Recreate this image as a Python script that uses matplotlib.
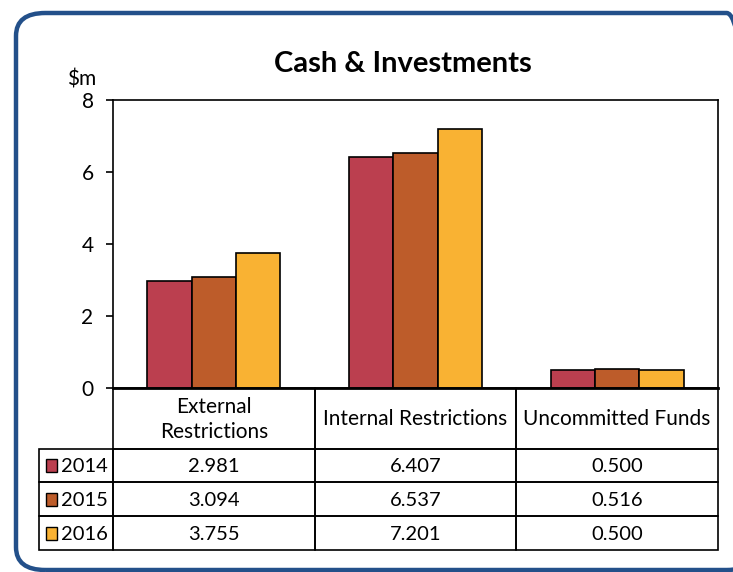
import matplotlib.pyplot as plt
from matplotlib.patches import FancyBboxPatch, Rectangle

# data
categories = ["External\nRestrictions", "Internal Restrictions", "Uncommitted Funds"]
years = ["2014", "2015", "2016"]
v2014 = [2.981, 6.407, 0.500]
v2015 = [3.094, 6.537, 0.516]
v2016 = [3.755, 7.201, 0.500]
series = [v2014, v2015, v2016]
colours = ["#bb3f4f", "#bd5c2a", "#f9b233"]
yticks = [0, 2, 4, 6, 8]

plt.rcParams['font.family'] = ['Lato', 'DejaVu Sans']

W, H = 733, 572
fig = plt.figure(figsize=(W / 100, H / 100), dpi=100)

def px_box(x0, y0, x1, y1):
    # pixel box (top-left origin) -> figure fraction rect
    return [x0 / W, 1 - y1 / H, (x1 - x0) / W, (y1 - y0) / H]

# rounded blue frame
frame = FancyBboxPatch((16 / W, 2 / H), 740 / W, 557 / H,
                       boxstyle="round,pad=0,rounding_size=0.04",
                       transform=fig.transFigure, fill=False,
                       edgecolor="#23508a", linewidth=3.2, clip_on=False)
fig.patches.append(frame)

# bar chart
ax = fig.add_axes(px_box(113, 100, 718, 388))
n = len(categories)
bw = 0.22
for i, (vals, c) in enumerate(zip(series, colours)):
    xs = [k + 0.5 + (i - 1) * bw for k in range(n)]
    ax.bar(xs, vals, width=bw, color=c, edgecolor="black", linewidth=1.2, zorder=3)
ax.set_xlim(0, n)
ax.set_ylim(0, 8)
ax.set_yticks(yticks)
ax.set_yticklabels([str(t) for t in yticks], fontsize=15)
ax.set_xticks([])
ax.tick_params(axis="y", length=5, width=1.2, pad=9)
for s in ax.spines.values():
    s.set_linewidth(1.2)
ax.spines["bottom"].set_linewidth(2)
fig.text(96 / W, 1 - 86 / H, "$m", ha="right", va="baseline", fontsize=15)
fig.text(403 / W, 1 - 72 / H, "Cash & Investments", ha="center", va="baseline",
         fontsize=21, fontweight="bold")

# data table underneath
tab = fig.add_axes(px_box(39, 388, 718, 550))
left = -74 / ((718 - 113) / n)
row_h = [61, 34, 34, 34]
tab.set_xlim(left, n)
tab.set_ylim(sum(row_h), 0)
tab.axis("off")
lw = 1.2
# header cells
for k, cat in enumerate(categories):
    tab.add_patch(Rectangle((k, 0), 1, row_h[0], fill=False, lw=lw, clip_on=False))
    tab.text(k + 0.5, row_h[0] / 2 + 1, cat, ha="center", va="center", fontsize=15,
             linespacing=1.35)
# value rows
y0 = row_h[0]
for r, (yr, vals, c) in enumerate(zip(years, series, colours)):
    h = row_h[r + 1]
    tab.add_patch(Rectangle((left, y0), -left, h, fill=False, lw=lw, clip_on=False))
    tab.add_patch(Rectangle((left + 0.035, y0 + h / 2 - 6.5), 0.055, 13,
                            facecolor=c, edgecolor="black", lw=1, clip_on=False))
    tab.text(left + 0.11, y0 + h / 2 + 1, yr, ha="left", va="center", fontsize=14.5)
    for k, v in enumerate(vals):
        tab.add_patch(Rectangle((k, y0), 1, h, fill=False, lw=lw, clip_on=False))
        tab.text(k + 0.5, y0 + h / 2 + 1, f"{v:.3f}", ha="center", va="center",
                 fontsize=14.5)
    y0 += h

fig.savefig("out.png", dpi=100)
